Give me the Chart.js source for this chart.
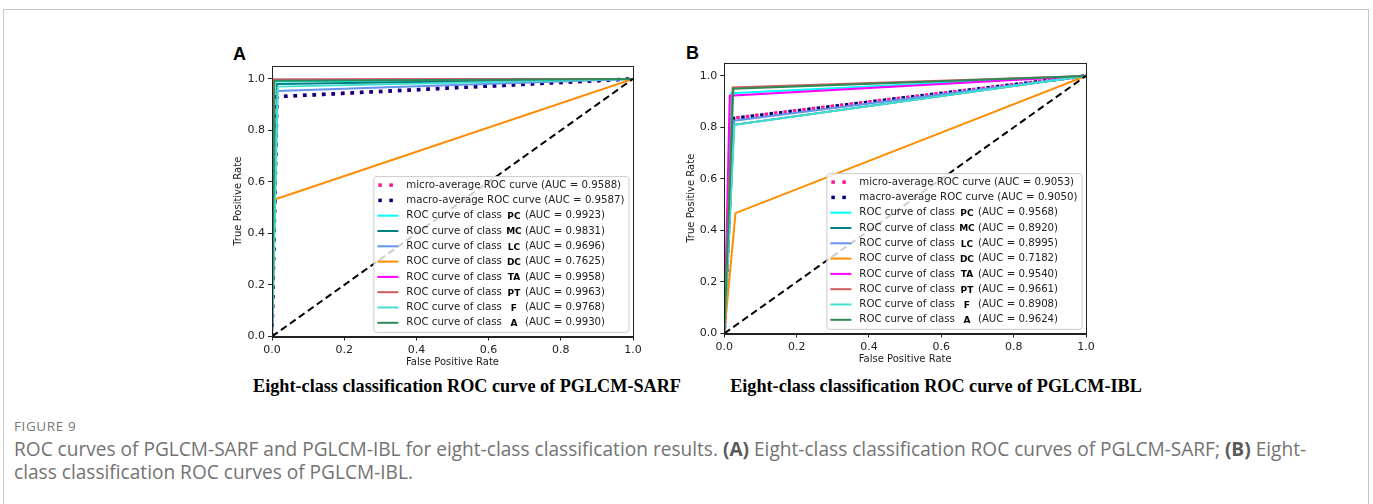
<!DOCTYPE html>
<html>
<head>
<meta charset="utf-8">
<script src="https://cdn.jsdelivr.net/npm/chart.js@4.4.0/dist/chart.umd.min.js"></script>
<style>
  body { margin: 0; background: #fff; width: 1373px; height: 504px; overflow: hidden; position: relative; }
  .frame { position: absolute; left: 3px; top: 9px; width: 1366px; height: 520px; border: 1px solid #c8c8c8; box-sizing: border-box; }
  canvas { position: absolute; }
  .panel { position: absolute; font: bold 18px "Liberation Sans", Arial, sans-serif; line-height: 1; color: #000; }
  .sub { position: absolute; font: bold 18.2px "Liberation Serif", "Times New Roman", serif; line-height: 1; color: #000; white-space: nowrap; transform: translateX(-50%); }
  .fig { position: absolute; left: 14px; top: 417px; font: 13.5px "Open Sans", sans-serif; color: #777; letter-spacing: 0.6px; }
  .cap { position: absolute; left: 14px; top: 438px; font: 19.1px/23px "Open Sans", sans-serif; color: #737373; white-space: nowrap; }
  .cap b { color: #5a5a5a; }
</style>
</head>
<body>
<div class="frame"></div>
<div class="panel" style="left:233px; top:45px;">A</div>
<div class="panel" style="left:686px; top:44px;">B</div>
<canvas id="rocA" width="418" height="314" style="left:228px; top:56px;"></canvas>
<canvas id="rocB" width="418" height="314" style="left:681px; top:53px;"></canvas>
<div class="sub" style="left:467px; top:377px;">Eight-class classification ROC curve of PGLCM-SARF</div>
<div class="sub" style="left:936px; top:377px;">Eight-class classification ROC curve of PGLCM-IBL</div>
<div class="fig">FIGURE 9</div>
<div class="cap">ROC curves of PGLCM-SARF and PGLCM-IBL for eight-class classification results. <b>(A)</b> Eight-class classification ROC curves of PGLCM-SARF; <b>(B)</b> Eight-<br>class classification ROC curves of PGLCM-IBL.</div>

<script>
// class names / colours shared by both panels
const classNames = ['PC', 'MC', 'LC', 'DC', 'TA', 'PT', 'F', 'A'];
const classColors = ['#00ffff', '#008080', '#6495ed', '#ff8c00', '#ff00ff', '#cd5c5c', '#40e0d0', '#2e8b57'];
const axisTicks = [0, 0.2, 0.4, 0.6, 0.8, 1.0];

// Panel A (PGLCM-SARF): each class curve is (0,0) -> (fpr, tpr) -> (1,1)
const aucA = [0.9923, 0.9831, 0.9696, 0.7625, 0.9958, 0.9963, 0.9768, 0.9930];
const fprA = [0.005, 0.014, 0.015, 0.003, 0.005, 0.004, 0.016, 0.007];
const tprA = [0.990, 0.980, 0.953, 0.530, 0.997, 0.998, 0.970, 0.993];
const microFprA = [0, 0.013, 1];
const microTprA = [0, 0.931, 1];
const macroFprA = [0, 0.014, 1];
const macroTprA = [0, 0.931, 1];
const microAucA = 0.9588;
const macroAucA = 0.9587;

// Panel B (PGLCM-IBL)
const aucB = [0.9568, 0.8920, 0.8995, 0.7182, 0.9540, 0.9661, 0.8908, 0.9624];
const fprB = [0.019, 0.026, 0.027, 0.031, 0.015, 0.023, 0.028, 0.025];
const tprB = [0.933, 0.810, 0.826, 0.467, 0.923, 0.955, 0.810, 0.950];
const microFprB = [0, 0.025, 1];
const microTprB = [0, 0.836, 1];
const macroFprB = [0, 0.025, 1];
const macroTprB = [0, 0.835, 1];
const microAucB = 0.9053;
const macroAucB = 0.9050;

const diagonal = [0, 1];

const FONT = '"DejaVu Sans", sans-serif';
const INK = '#222';

function toPoints(xs, ys) {
    return xs.map((x, i) => ({ x: x, y: ys[i] }));
}

// matplotlib style box around the plot area
const frameBox = {
    id: 'frameBox',
    afterDatasetsDraw(chart) {
        const a = chart.chartArea, ctx = chart.ctx;
        ctx.save();
        ctx.strokeStyle = INK;
        ctx.lineWidth = 1;
        ctx.strokeRect(Math.round(a.left) + 0.5, Math.round(a.top) + 0.5,
            Math.round(a.right - a.left), Math.round(a.bottom - a.top));
        ctx.restore();
    }
};

// legend in the lower right corner of the axes, like loc="lower right"
const rocLegend = {
    id: 'rocLegend',
    afterDraw(chart, args, opts) {
        const ctx = chart.ctx, a = chart.chartArea;
        const rows = opts.rows;
        const rowH = 15.3, handleLen = 21, pad = 4, gap = 8;
        const textFont = '10.2px ' + FONT;
        ctx.save();
        ctx.font = textFont;
        const prefix = 'ROC curve of class';
        const prefixW = ctx.measureText(prefix).width;
        let maxW = 0;
        rows.forEach(r => {
            const w = r.code ? prefixW + 23 + ctx.measureText(r.suffix).width : ctx.measureText(r.text).width;
            maxW = Math.max(maxW, w);
        });
        const w = pad + handleLen + gap + maxW + pad;
        const h = 18 + (rows.length - 1) * rowH;
        const right = a.right - 4.5, bottom = a.bottom - 4.7;
        const left = right - w, top = bottom - h;

        ctx.beginPath();
        ctx.roundRect(left + 0.5, top + 0.5, w, h, 2.5);
        ctx.fillStyle = 'rgba(255,255,255,0.8)';
        ctx.fill();
        ctx.strokeStyle = '#cccccc';
        ctx.lineWidth = 1;
        ctx.stroke();

        ctx.textBaseline = 'middle';
        rows.forEach((r, i) => {
            const cy = top + 9 + i * rowH;
            const hx = left + pad;
            if (r.dotted) {
                ctx.fillStyle = r.color;
                ctx.fillRect(hx + 1, cy - 1.75, 3.5, 3.5);
                ctx.fillRect(hx + 12, cy - 1.75, 3.5, 3.5);
            } else {
                ctx.strokeStyle = r.color;
                ctx.lineWidth = 2;
                ctx.beginPath();
                ctx.moveTo(hx, cy);
                ctx.lineTo(hx + handleLen, cy);
                ctx.stroke();
            }
            const tx = hx + handleLen + gap;
            ctx.fillStyle = INK;
            ctx.font = textFont;
            ctx.textAlign = 'left';
            if (r.code) {
                ctx.fillText(prefix, tx, cy);
                ctx.font = 'bold 9px ' + FONT;
                ctx.textAlign = 'center';
                ctx.fillStyle = '#000';
                ctx.fillText(r.code, tx + prefixW + 12, cy + 1);
                ctx.font = textFont;
                ctx.textAlign = 'left';
                ctx.fillStyle = INK;
                ctx.fillText(r.suffix, tx + prefixW + 23, cy);
            } else {
                ctx.fillText(r.text, tx, cy);
            }
        });
        ctx.restore();
    }
};

function createRocChart(canvasId, p) {
    const datasets = [];
    datasets.push({
        data: toPoints(p.microFpr, p.microTpr),
        borderColor: '#ff1493', borderWidth: 3.5, borderDash: [3.5, 6], borderCapStyle: 'butt'
    });
    datasets.push({
        data: toPoints(p.macroFpr, p.macroTpr),
        borderColor: '#000080', borderWidth: 3.5, borderDash: [3.5, 6], borderDashOffset: p.dashOffset, borderCapStyle: 'butt'
    });
    classNames.forEach((name, i) => {
        datasets.push({
            data: toPoints([0, p.fpr[i], 1], [0, p.tpr[i], 1]),
            borderColor: classColors[i], borderWidth: 2
        });
    });
    datasets.push({
        data: toPoints(diagonal, diagonal),
        borderColor: '#000', borderWidth: 2, borderDash: [7, 4], borderCapStyle: 'butt'
    });
    // later series on top, as in matplotlib
    datasets.forEach((d, i) => {
        d.order = -i;
        d.fill = false;
        d.pointRadius = 0;
        d.tension = 0;
    });

    const rows = [
        { text: 'micro-average ROC curve (AUC = ' + p.microAuc.toFixed(4) + ')', color: '#ff1493', dotted: true },
        { text: 'macro-average ROC curve (AUC = ' + p.macroAuc.toFixed(4) + ')', color: '#000080', dotted: true }
    ];
    classNames.forEach((name, i) => {
        rows.push({ code: name, suffix: '(AUC = ' + p.auc[i].toFixed(4) + ')', color: classColors[i] });
    });

    const tickFont = { family: FONT, size: 11 };
    const titleFont = { family: FONT, size: 10 };

    return new Chart(document.getElementById(canvasId), {
        type: 'line',
        data: { datasets: datasets },
        options: {
            responsive: false,
            animation: false,
            devicePixelRatio: 1,
            layout: { padding: { left: 0, top: 10, right: 13, bottom: 0 } },
            plugins: {
                legend: { display: false },
                tooltip: { enabled: false },
                rocLegend: { rows: rows }
            },
            scales: {
                x: {
                    type: 'linear', min: 0, max: 1,
                    afterBuildTicks: s => { s.ticks = axisTicks.map(v => ({ value: v })); },
                    afterFit: s => { s.height = 33.5; },
                    grid: { display: true, drawOnChartArea: false, drawTicks: true, tickLength: 4, color: INK },
                    border: { display: true, color: INK, width: 1 },
                    ticks: { font: tickFont, color: INK, padding: 3, maxRotation: 0, callback: v => v.toFixed(1) },
                    title: { display: true, text: 'False Positive Rate', font: titleFont, color: INK, padding: { top: 0, bottom: 2 } }
                },
                y: {
                    type: 'linear', min: 0, max: 1.05,
                    afterBuildTicks: s => { s.ticks = axisTicks.map(v => ({ value: v })); },
                    afterFit: s => { s.width = p.yWidth; },
                    grid: { display: true, drawOnChartArea: false, drawTicks: true, tickLength: 4, color: INK },
                    border: { display: true, color: INK, width: 1 },
                    ticks: { font: tickFont, color: INK, padding: 3, callback: v => v.toFixed(1) },
                    title: { display: true, text: 'True Positive Rate', font: titleFont, color: INK, padding: { top: 4, bottom: 0 } }
                }
            }
        },
        plugins: [frameBox, rocLegend]
    });
}

createRocChart('rocA', {
    auc: aucA, fpr: fprA, tpr: tprA,
    microFpr: microFprA, microTpr: microTprA, macroFpr: macroFprA, macroTpr: macroTprA,
    microAuc: microAucA, macroAuc: macroAucA, dashOffset: 0, yWidth: 44
});
createRocChart('rocB', {
    auc: aucB, fpr: fprB, tpr: tprB,
    microFpr: microFprB, microTpr: microTprB, macroFpr: macroFprB, macroTpr: macroTprB,
    microAuc: microAucB, macroAuc: macroAucB, dashOffset: 4.75, yWidth: 43.3
});
</script>
</body>
</html>
